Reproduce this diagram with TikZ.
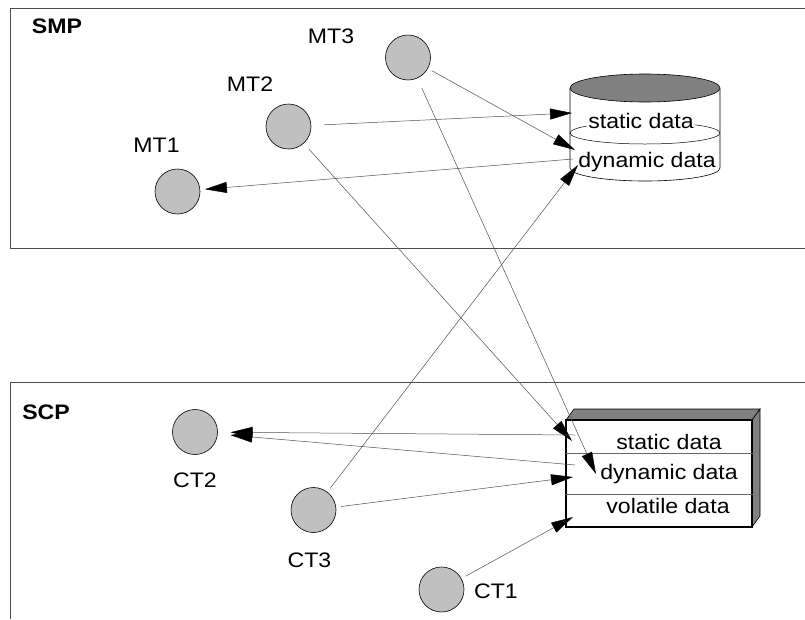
\documentclass[tikz,border=0pt]{standalone}
\usepackage{fontspec}
\setmainfont{Liberation Sans}[FakeStretch=1.1]
\usetikzlibrary{arrows.meta}

\definecolor{ballgray}{HTML}{C0C0C0}
\definecolor{darkface}{HTML}{808080}
\definecolor{wiregray}{HTML}{505050}

\begin{document}
\begin{tikzpicture}[
    x=1pt, y=-1pt,
    font=\fontsize{21}{25}\selectfont,
    task/.style={circle, draw=black, fill=ballgray, line width=0.6pt, minimum size=45pt, inner sep=0pt, outer sep=5pt},
    lbl/.style={anchor=base, inner sep=0pt},
    title/.style={anchor=base, inner sep=0pt, font=\fontsize{21}{25}\selectfont\bfseries},
    frame/.style={draw=black!70, line width=0.9pt},
    field/.style={anchor=base, inner sep=1pt},
    msg/.style={-{Triangle[length=22pt, width=11pt, black]}, draw=wiregray, line width=0.5pt}
]

\useasboundingbox (0,0) rectangle (805,619);

% processors
\draw[frame] (805,8) -- (10,8) -- (10,248) -- (805,248);
\draw[frame] (805,382) -- (10,382) -- (10,619);
\node[title] (smp) at (57,33) {SMP};
\node[title] (scp) at (46,419) {SCP};

% tasks
\node[task] (mt1) at (177.5,191.5) {};
\node[task] (mt2) at (288.5,126.5) {};
\node[task] (mt3) at (408,57.5) {};
\node[task] (ct1) at (441.5,589.5) {};
\node[task] (ct2) at (195,432) {};
\node[task] (ct3) at (313.5,510) {};

\node[lbl] (lmt1) at (156.5,152) {MT1};
\node[lbl] (lmt2) at (250,91) {MT2};
\node[lbl] (lmt3) at (331,43) {MT3};
\node[lbl] (lct1) at (496,598) {CT1};
\node[lbl] (lct2) at (195,487) {CT2};
\node[lbl] (lct3) at (309.5,567) {CT3};

% SMP database
\draw[line width=0.6pt] (570,88) -- (570,168) arc[start angle=180, end angle=0, x radius=75, y radius=13] -- (720,88);
\draw[line width=0.6pt, fill=darkface] (645,88) ellipse[x radius=75, y radius=14];
\draw[line width=0.5pt] (645,133) ellipse[x radius=75, y radius=11];
\node[field, fill=white] (smpStatic) at (641,128) {static data};
\node[field] (smpDynamic) at (647,167) {dynamic data};

% SCP store
\draw[line width=0.6pt, fill=darkface] (566,420) -- (574,409) -- (760,409) -- (752,420) -- cycle;
\draw[line width=0.6pt, fill=darkface] (752,420) -- (760,409) -- (760,516) -- (752,527) -- cycle;
\draw[line width=1.6pt] (566,420) rectangle (752,527);
\draw[black!60, line width=0.5pt] (566,453) -- (754,453);
\draw[black!60, line width=0.5pt] (566,494) -- (754,494);
\node[field] (scpStatic) at (669,449) {static data};
\node[field] (scpDynamic) at (669,479) {dynamic data};
\node[field] (scpVolatile) at (668,513) {volatile data};

\coordinate (smpS) at (572,113);
\coordinate (smpD1) at (575,150);
\coordinate (smpD2) at (573,159);
\coordinate (smpD3) at (578,165);
\coordinate (scpS1) at (572,441);
\coordinate (scpS2) at (575,435);
\coordinate (scpD1) at (596,474);
\coordinate (scpD2) at (575,465);
\coordinate (scpD3) at (573,477);
\coordinate (scpV) at (573,517);

% accesses
\draw[msg, shorten <=8pt] (mt2) -- (smpS);
\draw[msg] (mt3) -- (smpD1);
\draw[msg] (smpD2) -- (mt1);
\draw[msg] (ct3) -- (smpD3);
\draw[msg, shorten <=3pt] (mt2) -- (scpS1);
\draw[msg, shorten <=6pt] (mt3) -- (scpD1);
\draw[msg, shorten >=8pt] (scpS2) -- (ct2);
\draw[msg, shorten >=8pt] (scpD2) -- (ct2);
\draw[msg] (ct3) -- (scpD3);
\draw[msg] (ct1) -- (scpV);

\end{tikzpicture}
\end{document}
